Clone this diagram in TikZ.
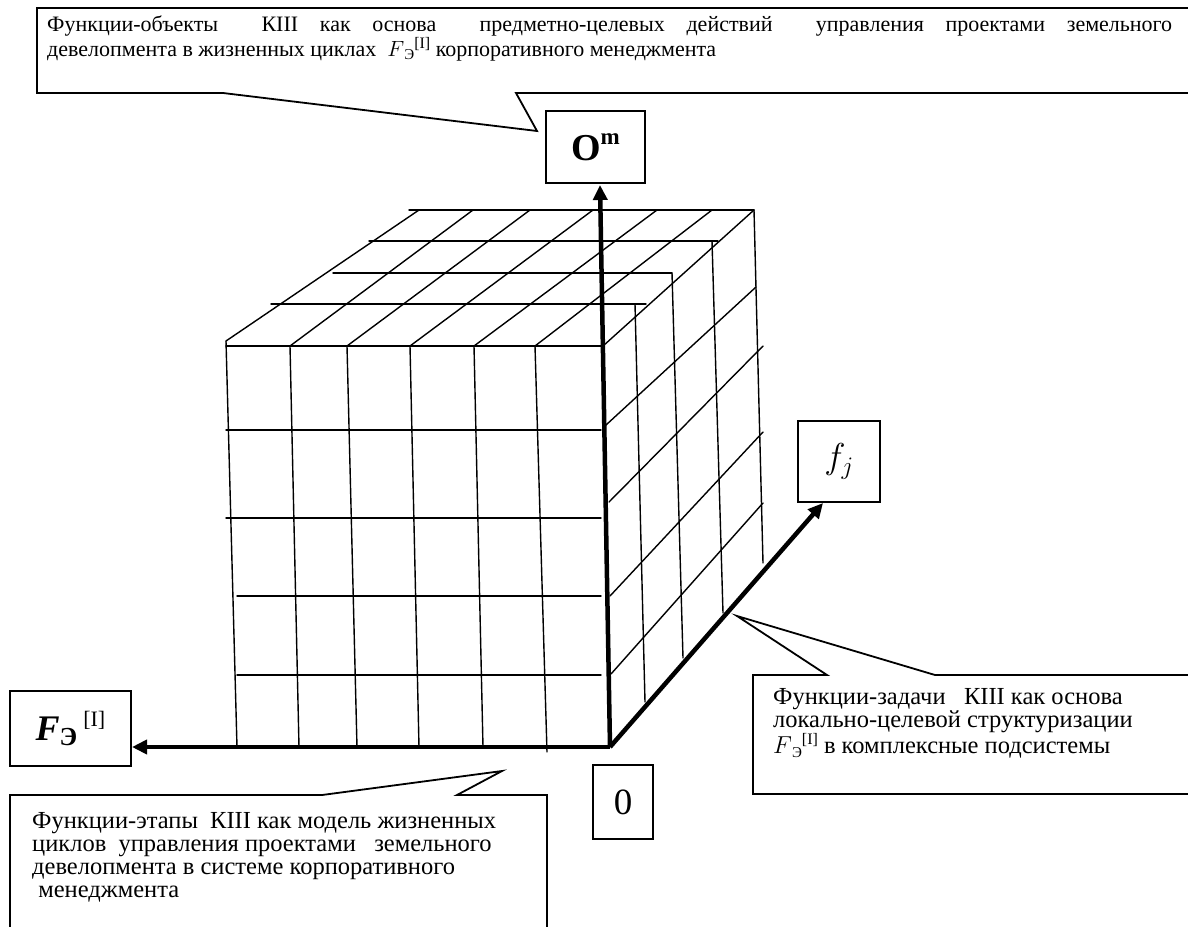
\documentclass[tikz,border=0pt]{standalone}
\usepackage{fix-cm}
\usepackage{fontspec}
\setmainfont{Liberation Serif}
\usetikzlibrary{arrows.meta}
\newcommand\FEsym{$F$\raisebox{-0.35ex}{\fontsize{15}{15}\selectfont Э}\raisebox{0.75ex}{\fontsize{16}{16}\selectfont [I]}}
\tikzset{
  gridline/.style={line width=1.4pt, line cap=round},
  axisline/.style={line width=4.5pt, -{Triangle[length=15pt,width=14pt]}},
  lbox/.style={draw, line width=1.8pt, inner sep=0pt, fill=white},
  callout/.style={draw, line width=1.8pt, fill=white, line join=miter},
  ctext/.style={font=\fontsize{24.5}{23}\selectfont, align=left, inner sep=0pt, anchor=north west},
}
\begin{document}
\begin{tikzpicture}[x=1pt,y=-1pt]
\clip (0,0) rectangle (1188,926);
\fill[white] (0,0) rectangle (1188,926);

% ---- callouts ----
\draw[callout] (37,8) -- (1200,8) -- (1200,93) -- (516,93) -- (537,131) -- (223,93) -- (37,93) -- cycle;
\node[ctext, font=\fontsize{22}{20.5}\selectfont] (ttop) at (47,16)
  {\makebox[1125pt][s]{Функции-объекты \ КIII как основа \ предметно-целевых действий \ управления проектами земельного}\\
   девелопмента в жизненных циклах \ \FEsym\ корпоративного менеджмента};

\draw[callout] (10,1000) -- (10,795) -- (322,795) -- (502,771) -- (457,795) -- (547,795) -- (547,1000);
\node[ctext] (tleft) at (32,812)
  {Функции-этапы \ КIII как модель жизненных\\
   циклов \ управления проектами \ \ земельного\\
   девелопмента в системе корпоративного\\
   \ менеджмента};

\draw[callout] (1200,675) -- (935,675) -- (737,616) -- (827,675) -- (753,675) -- (753,794) -- (1200,794);
\node[ctext] (tright) at (773,688)
  {Функции-задачи \ \ КIII как основа\\
   локально-целевой структуризации\\
   \FEsym\ в комплексные подсистемы};

% ---- cube: front face ----
\draw[gridline] (226,346) -- (603,346);
\draw[gridline] (226,341) -- (237,747);
\draw[gridline] (290,346) -- (299,747);
\draw[gridline] (347,346) -- (357,747);
\draw[gridline] (410,346) -- (419,747);
\draw[gridline] (474,346) -- (483,747);
\draw[gridline] (535,346) -- (547,752);
\draw[gridline] (226,430) -- (601,430);
\draw[gridline] (226,518) -- (601,518);
\draw[gridline] (237,596) -- (601,596);
\draw[gridline] (237,675) -- (601,675);

% ---- cube: top face ----
\draw[gridline] (409,210) -- (754,210);
\draw[gridline] (369,241) -- (718,241);
\draw[gridline] (333,273) -- (672,273);
\draw[gridline] (271,304) -- (646,304);
\draw[gridline] (226,341) -- (419,210);
\draw[gridline] (290,346) -- (473,210);
\draw[gridline] (347,346) -- (530,210);
\draw[gridline] (410,346) -- (593,210);
\draw[gridline] (474,346) -- (657,210);
\draw[gridline] (535,346) -- (712,210);
\draw[gridline] (603,346) -- (754,210);

% ---- cube: right face ----
\draw[gridline] (635,304) -- (645,702);
\draw[gridline] (672,273) -- (683,658);
\draw[gridline] (712,241) -- (723,613);
\draw[gridline] (754,210) -- (763,563);
\draw[gridline] (606,425) -- (756,287);
\draw[gridline] (609,502) -- (763,346);
\draw[gridline] (610,596) -- (763,432);
\draw[gridline] (611,674) -- (763,503);

% ---- label boxes ----
\node[lbox, minimum width=99pt, minimum height=72pt] (Om) at (595.5,147)
  {\fontsize{38}{38}\selectfont\bfseries O\raisebox{0.9ex}{\fontsize{23}{23}\selectfont m}};
\node[lbox, minimum width=121pt, minimum height=75pt] (FE) at (70.5,728.5)
  {\fontsize{36}{36}\selectfont\bfseries\itshape F\raisebox{-0.3ex}{\fontsize{26}{26}\selectfont\upshape Э}\,\raisebox{0.9ex}{\fontsize{22}{22}\selectfont\mdseries\upshape [I]}};
\node[lbox, minimum width=82pt, minimum height=81pt] (fj) at (839,461.5)
  {\fontsize{36}{36}\selectfont$f_j$};
\node[lbox, minimum width=60pt, minimum height=74pt] (zero) at (623,802)
  {\fontsize{37}{37}\selectfont 0};

% ---- axes ----
\coordinate (O) at (610,747);
\coordinate (tipOm) at (600,185);
\coordinate (tipF) at (132,747);
\coordinate (tipf) at (823,503);
\draw[axisline] (O) -- (tipOm);
\draw[axisline] (O) -- (tipF);
\draw[axisline] (O) -- (tipf);
\end{tikzpicture}
\end{document}
